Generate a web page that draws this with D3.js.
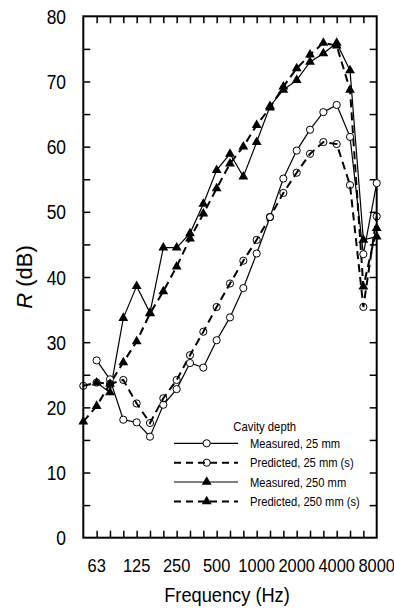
<!DOCTYPE html>
<html>
<head>
<meta charset="utf-8">
<script src="https://cdn.jsdelivr.net/npm/d3@7"></script>
<style>
body { margin: 0; background: #fff; }
svg { display: block; font-family: "Liberation Sans", Arial, sans-serif; }
</style>
</head>
<body>
<div id="graph"></div>
<script>
//1/3オクターブ帯域の中心周波数
var bandList = [50, 63, 80, 100, 125, 160, 200, 250, 315, 400, 500, 630, 800, 1000, 1250, 1600, 2000, 2500, 3150, 4000, 5000, 6300, 8000];
var xTickLabels = [63, 125, 250, 500, 1000, 2000, 4000, 8000];
var yTickLabels = [0, 10, 20, 30, 40, 50, 60, 70, 80];

//R (dB) per band, null = no point
var measured25 = [null, 27.2, 24.3, 18.1, 17.7, 15.5, 20.4, 22.8, 26.8, 26.1, 30.3, 33.8, 38.3, 43.6, 49.2, 55.1, 59.4, 62.6, 65.3, 66.4, 61.5, 43.5, 54.4];
var predicted25 = [23.3, 23.8, 23.6, 24.2, 20.6, 17.6, 21.4, 24.2, 28.0, 31.6, 35.4, 39.0, 42.5, 45.7, 49.2, 52.9, 56.0, 58.9, 60.7, 60.4, 54.1, 35.4, 49.3];
var measured250 = [null, 23.8, 22.3, 33.7, 38.6, 34.5, 44.5, 44.5, 46.7, 51.2, 56.4, 58.9, 55.4, 60.7, 66.2, 68.7, 70.2, 73.0, 74.3, 75.9, 71.7, 45.7, 46.2];
var predicted250 = [17.8, 20.2, 23.6, 26.9, 30.1, 34.4, 37.8, 41.6, 45.9, 49.7, 53.6, 57.4, 60.0, 63.3, 66.0, 69.2, 72.0, 74.1, 75.9, 75.5, 68.7, 38.5, 47.5];
var seriesNames = ["Measured, 25 mm", "Predicted, 25 mm (s)", "Measured, 250 mm", "Predicted, 250 mm (s)"];

var seriesList = [
    { name: seriesNames[0], values: measured25, marker: "circle", dashed: false },
    { name: seriesNames[1], values: predicted25, marker: "circle", dashed: true },
    { name: seriesNames[2], values: measured250, marker: "triangle", dashed: false },
    { name: seriesNames[3], values: predicted250, marker: "triangle", dashed: true }
];

var width = 394, height = 608;
var plot = { left: 83.3, right: 376.7, top: 16.3, bottom: 537.7 };

var svg = d3.select("#graph").append("svg").attr("width", width).attr("height", height);

var xScale = d3.scalePoint().domain(bandList).range([plot.left, plot.right]);
var yScale = d3.scaleLinear().domain([0, 80]).range([plot.bottom, plot.top]);

//横に少し詰めた文字
function narrowText(g, x, y, str, size, sx, anchor) {
    return g.append("text")
        .attr("transform", "translate(" + x + "," + y + ") scale(" + sx + ",1)")
        .attr("text-anchor", anchor)
        .style("font-size", size + "px")
        .text(str);
}

//内向きの目盛り
var minorY = d3.range(5, 80, 5);
var innerBands = bandList.slice(1, -1);

function tickStyle(g) {
    g.select(".domain").remove();
    g.selectAll("line").attr("stroke", "#000").attr("stroke-width", 1.5);
}

svg.append("g").attr("transform", "translate(" + plot.left + ",0)")
    .call(d3.axisLeft(yScale).tickValues(minorY).tickSize(-7).tickFormat(""))
    .call(tickStyle);
svg.append("g").attr("transform", "translate(" + plot.right + ",0)")
    .call(d3.axisRight(yScale).tickValues(minorY).tickSize(-7).tickFormat(""))
    .call(tickStyle);
svg.append("g").attr("transform", "translate(0," + plot.top + ")")
    .call(d3.axisTop(xScale).tickValues(innerBands).tickSize(-7).tickFormat(""))
    .call(tickStyle);
svg.append("g").attr("transform", "translate(0," + plot.bottom + ")")
    .call(d3.axisBottom(xScale).tickValues(innerBands).tickSize(-7).tickFormat(""))
    .call(tickStyle);

//枠
svg.append("rect")
    .attr("x", plot.left).attr("y", plot.top)
    .attr("width", plot.right - plot.left).attr("height", plot.bottom - plot.top)
    .attr("fill", "none").attr("stroke", "#000").attr("stroke-width", 2);

//目盛りラベル
var yLab = svg.append("g");
yTickLabels.forEach(function (d) {
    narrowText(yLab, 66, yScale(d) + 7.5, d, 20, 0.87, "end");
});
var xLab = svg.append("g");
xTickLabels.forEach(function (d) {
    narrowText(xLab, xScale(d), 572, d, 18.5, 0.89, "middle");
});

//軸タイトル
narrowText(svg, (plot.left + plot.right) / 2 - 3, 602, "Frequency (Hz)", 20.5, 0.89, "middle");
var yTitle = svg.append("text")
    .attr("transform", "translate(32," + ((plot.top + plot.bottom) / 2) + ") rotate(-90)")
    .attr("text-anchor", "middle")
    .style("font-size", "22px");
yTitle.append("tspan").style("font-style", "italic").text("R");
yTitle.append("tspan").text(" (dB)");

//折れ線
var line = d3.line()
    .defined(function (d) { return d != null; })
    .x(function (d, i) { return xScale(bandList[i]); })
    .y(function (d) { return yScale(d); });

var triangle = d3.symbol().type(d3.symbolTriangle).size(42);

function drawMarker(g, m, dashed, x, y) {
    if (m == "circle") {
        g.append("circle").attr("cx", x).attr("cy", y).attr("r", 3.6)
            .attr("fill", dashed ? "none" : "#fff")
            .attr("stroke", "#000").attr("stroke-width", 1);
    } else {
        g.append("path").attr("d", triangle)
            .attr("transform", "translate(" + x + "," + y + ")")
            .attr("fill", "#000");
    }
}

seriesList.forEach(function (s) {
    svg.append("path")
        .datum(s.values)
        .attr("fill", "none")
        .attr("stroke", "#000")
        .attr("stroke-width", s.dashed ? 2 : 1.2)
        .attr("stroke-dasharray", s.dashed ? "8,5" : null)
        .attr("d", line);
});

seriesList.forEach(function (s) {
    var g = svg.append("g");
    s.values.forEach(function (v, i) {
        if (v == null) return;
        drawMarker(g, s.marker, s.dashed, xScale(bandList[i]), yScale(v));
    });
});

//凡例
var legend = svg.append("g");
narrowText(legend, 264.7, 431, "Cavity depth", 13, 0.87, "middle");
var rowY = [443.3, 462.7, 482, 501.5];
seriesList.forEach(function (s, i) {
    legend.append("line")
        .attr("x1", 174).attr("x2", 238)
        .attr("y1", rowY[i]).attr("y2", rowY[i])
        .attr("stroke", "#000")
        .attr("stroke-width", s.dashed ? 2 : 1.2)
        .attr("stroke-dasharray", s.dashed ? "7,5" : null);
    drawMarker(legend, s.marker, s.dashed, 206.7, rowY[i]);
    narrowText(legend, 250, rowY[i] + 4.5, s.name, 13, 0.86, "start");
});
</script>
</body>
</html>
